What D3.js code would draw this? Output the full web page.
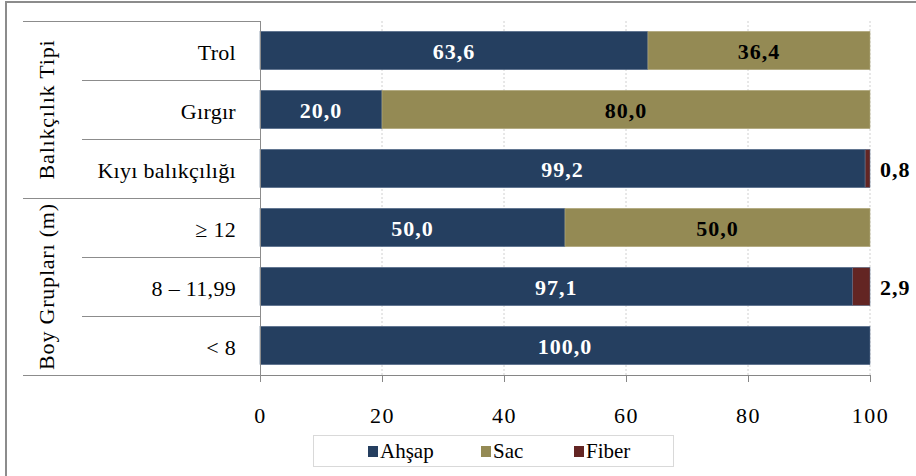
<!DOCTYPE html>
<html>
<head>
<meta charset="utf-8">
<script src="https://cdn.jsdelivr.net/npm/d3@7"></script>
<style>
  html, body { margin: 0; padding: 0; background: #fff; }
  svg { display: block; }
</style>
</head>
<body>
<svg id="chart" width="916" height="476"></svg>
<script>
// Categories (top to bottom) and the group each belongs to
const categories = ["Trol", "Gırgır", "Kıyı balıkçılığı", "≥ 12", "8 – 11,99", "< 8"];
const groups = ["Balıkçılık Tipi", "Boy Grupları (m)"];
const groupOf = [0, 0, 0, 1, 1, 1];

// Series values (%)
const seriesNames = ["Ahşap", "Sac", "Fiber"];
const ahsap = [63.6, 20.0, 99.2, 50.0, 97.1, 100.0];
const sac   = [36.4, 80.0, 0, 50.0, 0, 0];
const fiber = [0, 0, 0.8, 0, 2.9, 0];
const colors = ["#253f60", "#948a54", "#632523"];
const ticks = [0, 20, 40, 60, 80, 100];

const FONT = "Liberation Serif";

const svg = d3.select("#chart");
const plot = { left: 260, right: 870, top: 21, bottom: 375 };

// Outer frame
svg.append("rect")
  .attr("x", 6).attr("y", 2).attr("width", 1000).attr("height", 1000)
  .attr("fill", "none").attr("stroke", "#8c8c8c").attr("stroke-width", 2);

const x = d3.scaleLinear().domain([0, 100]).range([plot.left, plot.right]);
const y = d3.scaleBand().domain(categories).range([plot.top, plot.bottom]).paddingInner(0.35).paddingOuter(0.175);

// Dotted gridlines
svg.append("g").selectAll("line").data(ticks.slice(1)).join("line")
  .attr("x1", d => x(d)).attr("x2", d => x(d))
  .attr("y1", plot.top).attr("y2", plot.bottom)
  .attr("stroke", "#d0d0d0").attr("stroke-width", 1).attr("stroke-dasharray", "2,2");

// Stacked bars
const rows = categories.map((c, i) => ({ cat: c, vals: [ahsap[i], sac[i], fiber[i]] }));
const stack = d3.stack().keys([0, 1, 2]).value((d, k) => d.vals[k]);
const stacked = stack(rows);

const barG = svg.append("g");
stacked.forEach((layer, k) => {
  barG.selectAll(null).data(layer.filter(d => d[1] - d[0] > 0)).join("rect")
    .attr("x", d => x(d[0]))
    .attr("y", d => y(d.data.cat))
    .attr("width", d => x(d[1]) - x(d[0]))
    .attr("height", y.bandwidth())
    .attr("fill", colors[k])
    .attr("stroke", k === 1 ? "#b3ab80" : "#5e7390").attr("stroke-width", 0.6);
});

// Value labels
stacked.forEach((layer, k) => {
  layer.filter(d => d[1] - d[0] > 0).forEach(d => {
    const v = d[1] - d[0];
    const txt = d3.format(".1f")(v).replace(".", ",");
    const cy = y(d.data.cat) + y.bandwidth() / 2;
    const t = svg.append("text")
      .attr("font-family", FONT).attr("font-weight", "bold").attr("font-size", 22)
      .attr("y", cy + 1).attr("dy", "0.35em").attr("letter-spacing", "1").text(txt);
    if (k === 2) {
      t.attr("x", x(100) + 10).attr("fill", "#000");
    } else {
      t.attr("x", x((d[0] + d[1]) / 2)).attr("text-anchor", "middle").attr("fill", k === 0 ? "#fff" : "#000");
    }
  });
});

// X axis
const axisG = svg.append("g").attr("transform", `translate(0,${plot.bottom})`)
  .call(d3.axisBottom(x).tickValues(ticks).tickSize(7).tickPadding(25).tickFormat(d3.format("d")));
axisG.select(".domain").attr("stroke", "#868686").attr("d", `M${plot.left},0.5H${plot.right}`);
axisG.selectAll(".tick line").attr("stroke", "#868686");
axisG.selectAll(".tick text").attr("font-family", FONT).attr("font-size", 22)
  .attr("letter-spacing", "1.5").attr("fill", "#000");

// Category table on the left
const tbl = svg.append("g").attr("stroke", "#8c8c8c").attr("stroke-width", 1);
tbl.append("line").attr("x1", plot.left + 0.5).attr("x2", plot.left + 0.5).attr("y1", plot.top).attr("y2", plot.bottom + 7);
const boundaries = d3.range(categories.length + 1).map(i => plot.top + i * y.step());
boundaries.forEach((b, i) => {
  const full = i === 0 || i === categories.length || groupOf[i] !== groupOf[i - 1];
  tbl.append("line").attr("x1", full ? 23 : 82).attr("x2", plot.left)
    .attr("y1", Math.round(b) + 0.5).attr("y2", Math.round(b) + 0.5);
});

svg.append("g").selectAll("text").data(categories).join("text")
  .attr("font-family", FONT)
  .attr("x", 236).attr("y", d => y(d) + y.bandwidth() / 2 + 2).attr("dy", "0.35em")
  .attr("text-anchor", "end").attr("font-size", 22).attr("letter-spacing", "0.3")
  .attr("fill", "#000").text(d => d);

// Rotated group titles
groups.forEach((g, gi) => {
  const idx = categories.filter((c, i) => groupOf[i] === gi);
  const cy = (y(idx[0]) + y(idx[idx.length - 1]) + y.bandwidth()) / 2;
  svg.append("text").attr("font-family", FONT)
    .attr("transform", `translate(46,${cy}) rotate(-90)`)
    .attr("text-anchor", "middle").attr("dy", "0.35em").attr("font-size", 22)
    .attr("letter-spacing", "0.8").attr("fill", "#000").text(g);
});

// Legend
const leg = svg.append("g");
leg.append("rect").attr("x", 313.5).attr("y", 435.5).attr("width", 360).attr("height", 31)
  .attr("fill", "#fff").attr("stroke", "#d9d9d9");
const legX = [368, 481, 574];
seriesNames.forEach((s, i) => {
  leg.append("rect").attr("x", legX[i]).attr("y", 446).attr("width", 10).attr("height", 11).attr("fill", colors[i]);
  leg.append("text").attr("font-family", FONT)
    .attr("x", legX[i] + 12).attr("y", 451).attr("dy", "0.35em")
    .attr("font-size", 21).attr("fill", "#000").text(s);
});
</script>
</body>
</html>
